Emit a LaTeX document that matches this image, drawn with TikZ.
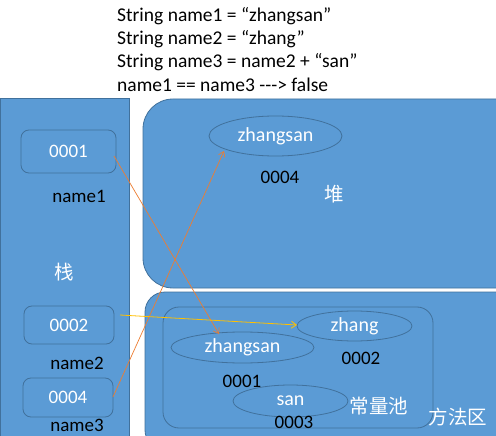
\documentclass[tikz,border=0pt]{standalone}
\usepackage{fontspec}
\setmainfont{Carlito}
\newfontfamily\cjk{Noto Sans CJK SC}
\usetikzlibrary{arrows.meta,shapes.geometric}
\definecolor{boxblue}{HTML}{5B9BD5}
\definecolor{edgeblue}{HTML}{41719C}
\definecolor{arrorange}{HTML}{ED7D31}
\definecolor{arryellow}{HTML}{FFC000}
\begin{document}
\begin{tikzpicture}[x=1pt,y=-1pt,
  area/.style={fill=boxblue,draw=edgeblue,line width=0.8pt},
  slot/.style={draw=edgeblue,fill=boxblue,rounded corners=8pt,line width=0.8pt,text=white,font=\fontsize{19}{21}\selectfont,inner sep=0pt},
  strobj/.style={ellipse,draw=edgeblue,fill=boxblue,line width=0.8pt,text=white,font=\fontsize{20}{22}\selectfont,inner sep=0pt},
  lbl/.style={text=black,font=\fontsize{19}{21}\selectfont,inner sep=0pt},
  code/.style={text=black,font=\fontsize{19.5}{21}\selectfont,inner sep=0pt},
  zh/.style={text=white,font=\cjk\fontsize{19.5}{21}\selectfont,inner sep=0pt},
  ref/.style={draw=arrorange,line width=0.7pt,-{Straight Barb[length=5pt,width=7pt]}},
  refy/.style={draw=arryellow,line width=0.8pt,-{Straight Barb[length=5pt,width=7pt]}}]
\useasboundingbox (0,0) rectangle (496,436);
\clip (0,0) rectangle (496,436);
\fill[white] (0,0) rectangle (496,436);
% code text
\node[code,anchor=west] (c1) at (117,16) {String name1 = “zhangsan”};
\node[code,anchor=west] (c2) at (117,39) {String name2 = “zhang”};
\node[code,anchor=west] (c3) at (117,62) {String name3 = name2 + “san”};
\node[code,anchor=west] (c4) at (117,85) {name1 == name3 -{}-{}-> false};
% stack
\draw[area] (0,98) rectangle (129,445);
% heap
\draw[area,rounded corners=30pt] (143,99) rectangle (530,288);
% method area
\draw[area,rounded corners=20pt] (145,292) rectangle (530,450);
% constant pool
\draw[draw=edgeblue,fill=boxblue,line width=0.8pt,rounded corners=16pt] (163,307) rectangle (433,428);
% stack slots
\node[slot,minimum width=95pt,minimum height=43pt] (s1) at (68.5,151.5) {0001};
\node[lbl] (n1) at (79,196) {name1};
\node[zh] (zhan) at (64,272) {栈};
\node[slot,minimum width=90pt,minimum height=38pt] (s2) at (69,325) {0002};
\node[lbl] (n2) at (77,363) {name2};
\node[slot,minimum width=90pt,minimum height=39pt] (s3) at (68,397.5) {0004};
\node[lbl] (n3) at (77,425) {name3};
% heap objects
\node[strobj,minimum width=133pt,minimum height=40pt] (h1) at (275.5,136) {zhangsan};
\node[lbl] (h1a) at (280,177) {0004};
\node[zh] (dui) at (334,194) {堆};
% pool objects
\node[strobj,minimum width=115pt,minimum height=30pt] (p2) at (354.5,326) {zhang};
\node[lbl] (p2a) at (361,358) {0002};
\node[strobj,minimum width=143pt,minimum height=31pt] (p1) at (242.5,347.5) {zhangsan};
\node[lbl] (p1a) at (242,381) {0001};
\node[strobj,minimum width=115pt,minimum height=32pt] (p3) at (290.5,401) {san};
\node[lbl] (p3a) at (294,422) {0003};
\node[zh] (pool) at (379,406) {常量池};
\node[zh] (ff) at (458,417) {方法区};
% references
\coordinate (s1o) at (114,156);
\coordinate (p1i) at (219,334);
\coordinate (s3o) at (113,397);
\coordinate (h1i) at (224,151);
\coordinate (s2o) at (120,315);
\coordinate (p2i) at (297,325);
\draw[ref] (s1o) -- (p1i);
\draw[ref] (s3o) -- (h1i);
\draw[refy] (s2o) -- (p2i);
\end{tikzpicture}
\end{document}
